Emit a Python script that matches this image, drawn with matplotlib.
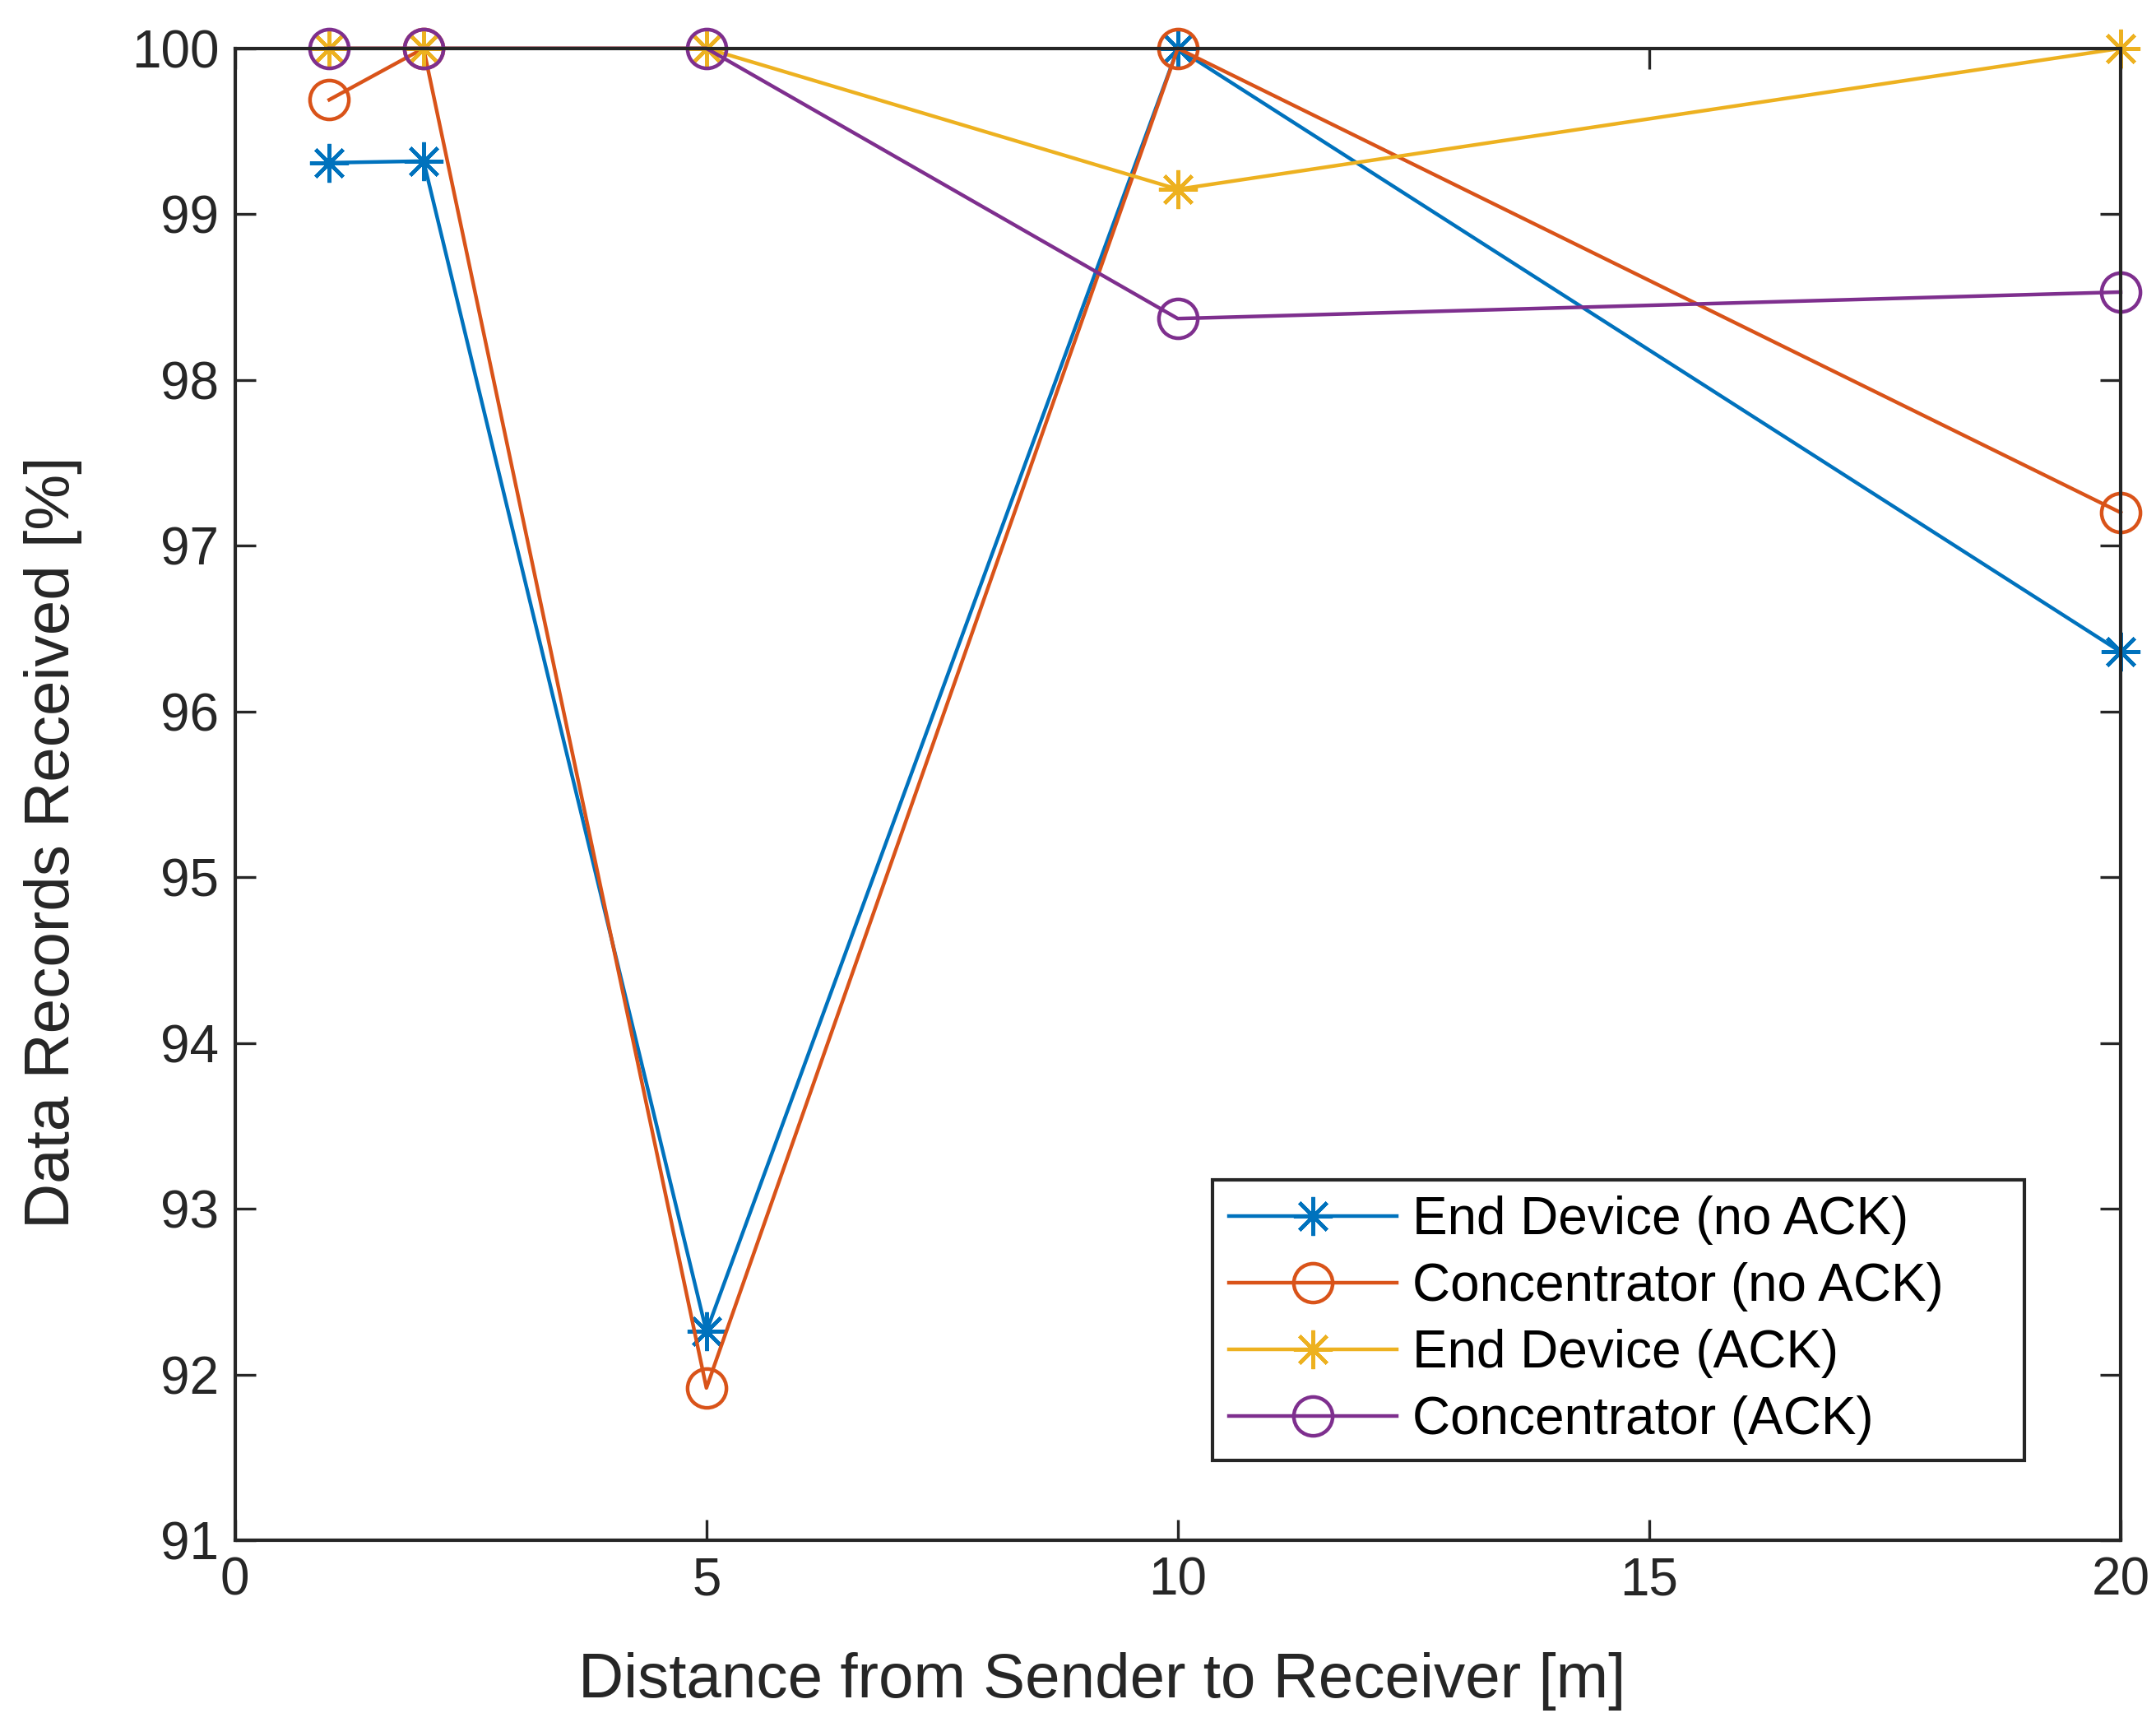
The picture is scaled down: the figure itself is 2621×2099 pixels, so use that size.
import matplotlib
matplotlib.use("Agg")
import matplotlib.pyplot as plt

# distances [m]
distance = [1, 2, 5, 10, 20]

# received records [%]
end_dev_no_ack = [99.31, 99.32, 92.26, 100.0, 96.36]
conc_no_ack    = [99.69, 100.0, 91.92, 100.0, 97.20]
end_dev_ack    = [100.0, 100.0, 100.0, 99.15, 100.0]
conc_ack       = [100.0, 100.0, 100.0, 98.37, 98.53]

labels = ["End Device (no ACK)", "Concentrator (no ACK)",
          "End Device (ACK)", "Concentrator (ACK)"]
colors = ["#0072BD", "#D95319", "#EDB120", "#7E2F8E"]

plt.rcParams['font.family'] = ['Liberation Sans', 'DejaVu Sans']

fig = plt.figure(figsize=(26.21, 20.99), dpi=100)
ax = fig.add_axes([0.109, 0.108, 0.8746, 0.864])

asterisk = (8, 2, 0)
series = [end_dev_no_ack, conc_no_ack, end_dev_ack, conc_ack]
markers = [asterisk, 'o', asterisk, 'o']
for vals, mk, col, lab in zip(series, markers, colors, labels):
    ax.plot(distance, vals, color=col, lw=3.2, marker=mk, markersize=34,
            markerfacecolor='none', markeredgecolor=col, markeredgewidth=3.2,
            label=lab, clip_on=False)

ax.set_xlim(0, 20)
ax.set_ylim(91, 100)
ax.set_xticks([0, 5, 10, 15, 20])
ax.set_yticks(range(91, 101))

for s in ax.spines.values():
    s.set_linewidth(3.0)
    s.set_color('#262626')
ax.tick_params(direction='in', length=18, width=2.4, top=True, right=True,
               labelsize=46, colors='#262626', pad=14)

ax.set_xlabel("Distance from Sender to Receiver [m]", fontsize=55, color='#262626')
ax.set_ylabel("Data Records Received [%]", fontsize=55, color='#262626')
ax.xaxis.set_label_coords(0.46, -0.075)
ax.yaxis.set_label_coords(-0.081, 0.468)

leg = ax.legend(loc='lower left', bbox_to_anchor=(0.5186, 0.0535, 0.4303, 0.19),
                mode='expand', borderaxespad=0,
                fontsize=46, handlelength=3.2, handletextpad=0.3, labelspacing=0.33,
                fancybox=False, edgecolor='#262626', framealpha=1, borderpad=0.3)
leg.get_frame().set_linewidth(3.0)

fig.savefig("out.png", dpi=100)
